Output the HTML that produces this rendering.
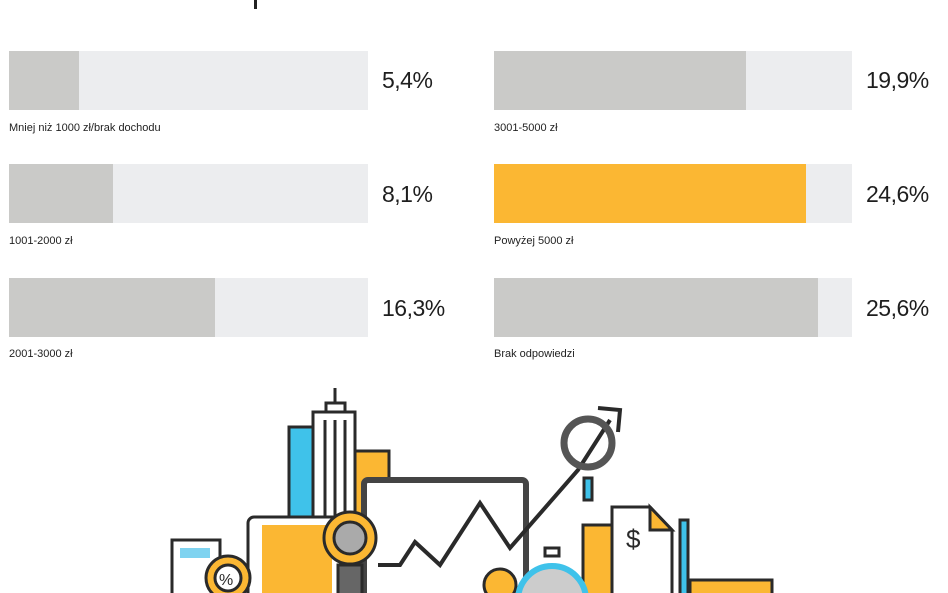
<!DOCTYPE html>
<html style="margin:0;width:948px;height:593px;overflow:hidden"><head><meta charset="utf-8"><style>
body{margin:0;width:948px;height:593px;background:#fff;position:relative;overflow:hidden;font-family:"Liberation Sans",sans-serif}
.bar{position:absolute;height:59px;background:#ecedef}
.bar div{position:absolute;left:0;top:0;height:100%;background:#cacac8}
.v{position:absolute;font-size:23px;color:#1e1e1e;letter-spacing:-0.5px}
.l{position:absolute;font-size:11px;color:#222}
svg{display:block}
</style></head><body>
<div style="position:absolute;left:254px;top:0;width:3px;height:9px;background:#222"></div>

<div class="bar" style="left:9px;top:51px;width:359px"><div style="width:70px"></div></div>
<div class="v" style="left:382px;top:67px">5,4%</div>
<div class="l" style="left:9px;top:122px">Mniej niż 1000 zł/brak dochodu</div>

<div class="bar" style="left:9px;top:164px;width:359px"><div style="width:104px"></div></div>
<div class="v" style="left:382px;top:181px">8,1%</div>
<div class="l" style="left:9px;top:235px">1001-2000 zł</div>

<div class="bar" style="left:9px;top:278px;width:359px"><div style="width:206px"></div></div>
<div class="v" style="left:382px;top:295px">16,3%</div>
<div class="l" style="left:9px;top:348px">2001-3000 zł</div>

<div class="bar" style="left:494px;top:51px;width:358px"><div style="width:252px"></div></div>
<div class="v" style="left:866px;top:67px">19,9%</div>
<div class="l" style="left:494px;top:122px">3001-5000 zł</div>

<div class="bar" style="left:494px;top:164px;width:358px"><div style="width:312px;background:#fbb733"></div></div>
<div class="v" style="left:866px;top:181px">24,6%</div>
<div class="l" style="left:494px;top:235px">Powyżej 5000 zł</div>

<div class="bar" style="left:494px;top:278px;width:358px"><div style="width:324px"></div></div>
<div class="v" style="left:866px;top:295px">25,6%</div>
<div class="l" style="left:494px;top:348px">Brak odpowiedzi</div>

<svg style="position:absolute;left:0;top:0" width="948" height="593" fill="none" stroke="#2a2a2a" stroke-width="3">
<rect x="289" y="427" width="24" height="170" fill="#3fc2ea"/>
<rect x="353" y="451" width="36" height="150" fill="#fbb733"/>
<line x1="335" y1="388" x2="335" y2="404"/>
<rect x="326" y="403" width="19" height="9" fill="#fff"/>
<rect x="313" y="412" width="42" height="190" fill="#fff"/>
<line x1="325" y1="420" x2="325" y2="600"/><line x1="335" y1="420" x2="335" y2="600"/><line x1="345" y1="420" x2="345" y2="600"/>
<rect x="248" y="517" width="96" height="90" rx="6" fill="#fff"/>
<rect x="262" y="525" width="70" height="80" fill="#fbb733" stroke="none"/>
<rect x="364" y="480" width="162" height="120" rx="4" fill="#fff" stroke="#444" stroke-width="6"/>
<polyline points="378,565 400,565 415,542 440,565 480,503 510,548 578,470 610,420" stroke-width="4"/>
<polyline points="598,408 620,410 618,432" stroke-width="4"/>
<circle cx="588" cy="443" r="24" stroke="#555" stroke-width="7"/>
<rect x="584" y="478" width="8" height="22" fill="#3fc2ea"/>
<rect x="583" y="525" width="30" height="75" fill="#fbb733"/>
<path d="M612 507 H650 L672 530 V600 H612 Z" fill="#fff"/>
<path d="M650 507 V530 H672 Z" fill="#fbb733"/>
<text x="626" y="548" font-size="26" fill="#2a2a2a" stroke="none" font-family="Liberation Sans">$</text>
<rect x="680" y="520" width="8" height="80" fill="#3fc2ea"/>
<rect x="690" y="580" width="82" height="20" fill="#fbb733"/>
<circle cx="350" cy="538" r="26" fill="#fbb733"/>
<circle cx="350" cy="538" r="16" fill="#aaa"/>
<rect x="338" y="565" width="24" height="30" fill="#666"/>
<rect x="172" y="540" width="48" height="60" fill="#fff"/>
<rect x="180" y="548" width="30" height="10" fill="#7fd3f0" stroke="none"/>
<circle cx="228" cy="578" r="22" fill="#fbb733"/>
<circle cx="228" cy="578" r="13" fill="#fff"/>
<text x="219" y="585" font-size="16" fill="#2a2a2a" stroke="none" font-family="Liberation Sans">%</text>
<circle cx="500" cy="585" r="16" fill="#fbb733"/>
<circle cx="552" cy="600" r="34" fill="#ccc" stroke="#3fc2ea" stroke-width="6"/>
<rect x="545" y="548" width="14" height="8" fill="#fff"/>
</svg>
</body></html>
